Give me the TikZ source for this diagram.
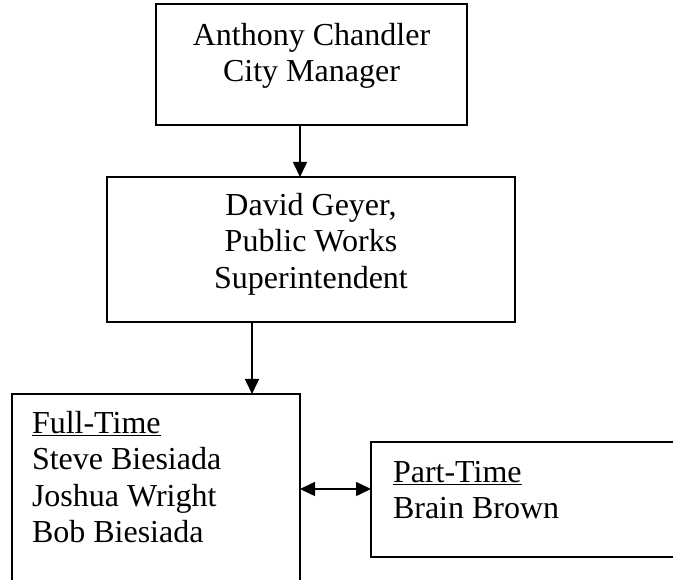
\documentclass[tikz,border=0pt]{standalone}
\usepackage{fontspec}
\setmainfont{Liberation Serif}
\usetikzlibrary{arrows.meta}
\tikzset{
  box/.style={draw, line width=1.5pt, inner sep=0pt, outer sep=0pt, rectangle},
  lbl/.style={font=\fontsize{32}{36.6}\selectfont, inner sep=0pt, outer sep=0pt},
  arr/.style={line width=1.5pt, -{Triangle[length=15pt,width=14pt]}},
  dblarr/.style={line width=1.5pt, {Triangle[length=15pt,width=14pt]}-{Triangle[length=15pt,width=14pt]}},
}
\begin{document}
\begin{tikzpicture}[x=1pt,y=1pt]
\useasboundingbox (0,0) rectangle (673,-580);
\clip (0,0) rectangle (673,-580);
% boxes
\node[box, minimum width=311pt, minimum height=121pt] (top) at (311.5,-64.5) {};
\node[box, minimum width=408pt, minimum height=145pt] (mid) at (311,-249.5) {};
\node[box, minimum width=288pt, minimum height=226pt] (ft) at (156,-507) {};
\node[box, minimum width=329pt, minimum height=115pt] (pt) at (535.5,-499.5) {};
% texts
\node[lbl, align=center, anchor=north] (toptext) at (311.5,-19.4)
  {\strut Anthony Chandler\\ \strut City Manager};
\node[lbl, align=center, anchor=north] (midtext) at (311,-189.4)
  {\strut David Geyer,\\ \strut Public Works\\ \strut Superintendent};
\node[lbl, align=left, anchor=north west] (fttext) at (32,-407.4)
  {\strut\underline{Full-Time}\\ \strut Steve Biesiada\\ \strut Joshua Wright\\ \strut Bob Biesiada};
\node[lbl, align=left, anchor=north west] (pttext) at (393,-456.4)
  {\strut\underline{Part-Time}\\ \strut Brain Brown};
% connectors
\coordinate (a1x) at (300,0);
\coordinate (a2x) at (252,0);
\coordinate (dy) at (0,-489);
\draw[arr] (top.south -| a1x) -- (mid.north -| a1x);
\draw[arr] (mid.south -| a2x) -- (ft.north -| a2x);
\draw[dblarr] (ft.east |- dy) -- (pt.west |- dy);
\end{tikzpicture}
\end{document}
